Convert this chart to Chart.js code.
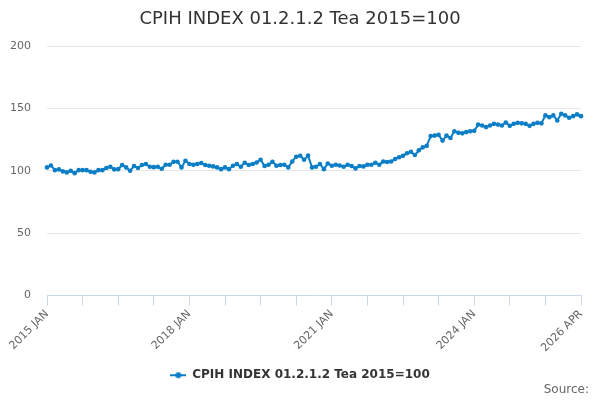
<!DOCTYPE html>
<html>
<head>
<meta charset="utf-8">
<script src="https://cdn.jsdelivr.net/npm/chart.js@4/dist/chart.umd.min.js"></script>
<style>
html,body{margin:0;padding:0;background:#fff;}
#wrap{width:600px;height:400px;}
</style>
</head>
<body>
<div id="wrap"><canvas id="c" width="600" height="400"></canvas></div>
<script>
const titleText = 'CPIH INDEX 01.2.1.2 Tea 2015=100';
const seriesName = 'CPIH INDEX 01.2.1.2 Tea 2015=100';
const sourceText = 'Source:';

const years = [2015,2016,2017,2018,2019,2020,2021,2022,2023,2024,2025,2026];
const monthNames = ['JAN','FEB','MAR','APR','MAY','JUN','JUL','AUG','SEP','OCT','NOV','DEC'];
const lastCategory = '2026 APR';

const categories = [];
outer: for (const y of years) {
  for (const m of monthNames) {
    const lab = y + ' ' + m;
    categories.push(lab);
    if (lab === lastCategory) break outer;
  }
}

const values = [
  102.7,104.3,100.5,101.1,99.5,98.7,100,98.1,100.5,100.5,100.5,99.2,
  98.7,100.5,100.5,102.2,103.2,101.1,101.3,104.6,102.7,100,103.8,102.2,
  104.6,105.4,103.2,102.9,103.2,101.6,104.8,104.8,107.3,107.3,102.7,108.1,
  105.4,104.8,105.4,106.2,104.6,104,103.5,102.7,101.3,102.7,101.3,104,
  105.4,103.2,106.5,104.6,105.4,106.7,108.9,103.8,104.8,107.3,104,104.6,
  104.8,102.7,107.5,111.3,112.1,108.8,112.2,102.7,103.2,105.4,101.3,105.9,
  104,104.8,104.3,103.2,104.8,103.8,101.9,103.8,103.5,104.8,104.8,106.5,
  104.8,107.5,107,107.5,109.4,110.8,112.1,114,115.3,112.6,116.4,118.8,
  120,127.8,128.2,128.8,124.2,128.2,126.3,131.7,130.4,130,131,131.7,
  132,137,136.3,135,136.3,137.6,137,136.3,138.7,136,137.6,138.4,
  138,137.6,136,137.6,138.4,138,144.4,143,144.4,140.3,145.7,144.4,
  142.5,143.8,145.2,143.8
];

const tickEvery = 9;
const shownTickLabels = ['2015 JAN','2018 JAN','2021 JAN','2024 JAN','2026 APR'];
const yMin = 0, yMax = 200, yStep = 50;

const lineColor = '#0b7ec6';

// legend symbol: line with a dot
const sym = document.createElement('canvas');
sym.width = 16; sym.height = 8;
(function(){
  const g = sym.getContext('2d');
  g.strokeStyle = lineColor; g.lineWidth = 2;
  g.beginPath(); g.moveTo(0,4); g.lineTo(16,4); g.stroke();
  g.fillStyle = lineColor;
  g.beginPath(); g.arc(8,4,3,0,Math.PI*2); g.fill();
})();

const sourcePlugin = {
  id: 'sourceText',
  afterDraw(chart) {
    const ctx = chart.ctx;
    ctx.save();
    ctx.font = "12px 'DejaVu Sans', sans-serif";
    ctx.fillStyle = '#666666';
    ctx.textAlign = 'right';
    ctx.textBaseline = 'middle';
    ctx.fillText(sourceText, 589, 390);
    ctx.restore();
  }
};

Chart.defaults.font.family = "'DejaVu Sans', sans-serif";

new Chart(document.getElementById('c'), {
  type: 'line',
  data: {
    labels: categories,
    datasets: [{
      label: seriesName,
      data: values,
      borderColor: lineColor,
      backgroundColor: lineColor,
      borderWidth: 2,
      pointRadius: 2.3,
      pointHoverRadius: 3,
      pointBackgroundColor: lineColor,
      pointBorderWidth: 0,
      pointStyle: 'circle',
      tension: 0,
      fill: false
    }]
  },
  plugins: [sourcePlugin],
  options: {
    responsive: false,
    animation: false,
    layout: { padding: { left: 10, right: 10, top: 0, bottom: 8.8 } },
    plugins: {
      title: {
        display: true,
        text: titleText,
        color: '#333333',
        font: { size: 18, weight: 'normal' },
        padding: { top: 9, bottom: 15.4 }
      },
      legend: {
        position: 'bottom',
        labels: {
          usePointStyle: true,
          pointStyle: sym,
          pointStyleWidth: 16,
          color: '#333333',
          font: { size: 12, weight: 'bold' },
          padding: 12.6
        }
      },
      tooltip: { enabled: false }
    },
    scales: {
      x: {
        type: 'category',
        offset: false,
        afterFit: function(scale) { scale.paddingLeft = 0; scale.paddingRight = 0; },
        border: { display: true, color: '#ccd6eb', width: 1 },
        grid: {
          display: true,
          drawOnChartArea: false,
          drawTicks: true,
          tickLength: 10,
          color: '#ccd6eb'
        },
        ticks: {
          autoSkip: false,
          minRotation: 45,
          maxRotation: 45,
          color: '#666666',
          font: { size: 11 },
          padding: 2,
          callback: function(val, idx) {
            if (idx % tickEvery !== 0) return null;
            const lab = categories[idx];
            return shownTickLabels.includes(lab) ? lab : '';
          }
        }
      },
      y: {
        min: yMin,
        max: yMax,
        afterFit: function(scale) { scale.width = 37; },
        border: { display: false },
        grid: { color: '#e6e6e6', drawTicks: false },
        ticks: {
          stepSize: yStep,
          color: '#666666',
          font: { size: 11 },
          padding: 16
        }
      },
      yRightSpacer: {
        type: 'linear',
        position: 'right',
        display: true,
        afterFit: function(scale) { scale.width = 9; },
        border: { display: false },
        grid: { display: false, drawTicks: false },
        ticks: { display: false }
      }
    }
  }
});
</script>
</body>
</html>
